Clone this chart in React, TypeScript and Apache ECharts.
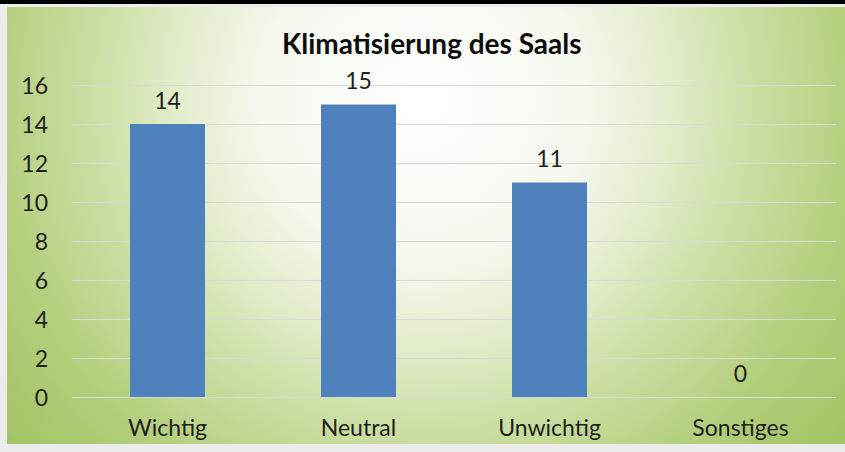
import React, { useEffect, useRef } from "react";
import * as echarts from "echarts";

const titleText = "Klimatisierung des Saals";
const categories = ["Wichtig", "Neutral", "Unwichtig", "Sonstiges"];
const values = [14, 15, 11, 0];
const yMin = 0;
const yMax = 16;
const yInterval = 2;

export default function App() {
  const ref = useRef<HTMLDivElement>(null);
  useEffect(() => {
    document.body.style.margin = "0";
    const chart = echarts.init(ref.current!, null, { renderer: "svg" });
    const font = "Lato, 'Noto Sans', sans-serif";
    chart.setOption({
      animation: false,
      graphic: [
        { type: "rect", z: -100, silent: true, shape: { x: 0, y: 0, width: 845, height: 452 }, style: { fill: "#ececec" } },
        { type: "rect", z: -99, silent: true, shape: { x: 0, y: 0, width: 845, height: 4 }, style: { fill: "#000000" } },
        {
          type: "rect", z: -98, silent: true,
          shape: { x: 7, y: 7, width: 838, height: 437 },
          style: {
            fill: new echarts.graphic.RadialGradient(423, 100, 540, [
              { offset: 0, color: "#ffffff" },
              { offset: 0.3, color: "#f5f8ee" },
              { offset: 0.45, color: "#e3edcd" },
              { offset: 0.6, color: "#cde0a6" },
              { offset: 0.8, color: "#b4cf7d" },
              { offset: 1, color: "#a3c463" },
            ], true),
          },
        },
      ],
      title: {
        text: titleText,
        left: 277,
        top: 24,
        textStyle: { fontFamily: font, fontSize: 28, fontWeight: "bold", color: "#0d0d0d" },
      },
      grid: { left: 72, right: 9, top: 85, bottom: 55 },
      xAxis: {
        type: "category",
        data: categories,
        axisLine: { show: false },
        axisTick: { show: false },
        axisLabel: { fontFamily: font, fontSize: 23, color: "#1f1f1f", margin: 18 },
      },
      yAxis: {
        type: "value",
        min: yMin,
        max: yMax,
        interval: yInterval,
        axisLine: { show: false },
        axisTick: { show: false },
        axisLabel: { fontFamily: font, fontSize: 23, color: "#1f1f1f", margin: 24 },
        splitLine: { lineStyle: { color: "#d9d9d9", width: 1 } },
      },
      series: [
        {
          type: "bar",
          data: values,
          barWidth: 75,
          itemStyle: { color: "#4f81bd" },
          label: {
            show: true,
            position: "top",
            distance: 13,
            fontFamily: font,
            fontSize: 23,
            color: "#1f1f1f",
          },
        },
      ],
    });
    return () => chart.dispose();
  }, []);
  return <div ref={ref} style={{ width: 845, height: 452 }} />;
}
